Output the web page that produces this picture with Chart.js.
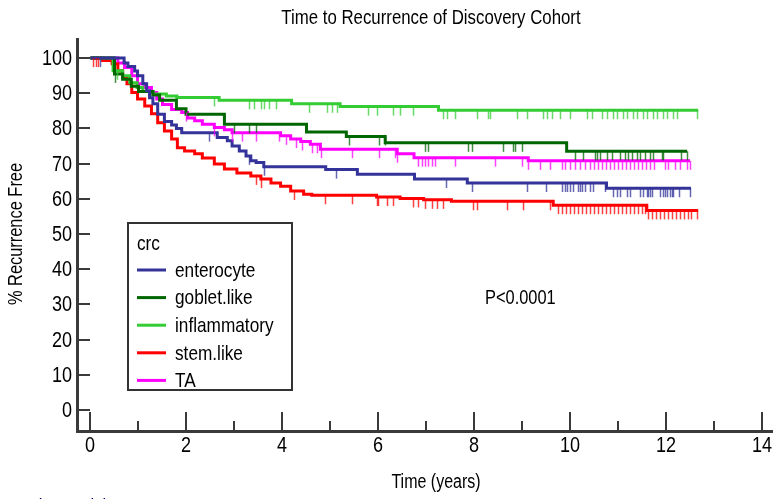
<!DOCTYPE html>
<html>
<head>
<meta charset="utf-8">
<script src="https://cdn.jsdelivr.net/npm/chart.js@4.4.0/dist/chart.umd.min.js"></script>
<style>
  html, body { margin: 0; padding: 0; background: #fff; }
  #wrap { width: 773px; height: 499px; }
</style>
</head>
<body>
<div id="wrap"><canvas id="kmChart" width="773" height="499"></canvas></div>
<script>
// Kaplan-Meier recurrence-free curves, one per crc subtype
const groups = ["enterocyte", "goblet.like", "inflammatory", "stem.like", "TA"];

// step times (years) and % recurrence free after each step
const enterocyteT = [0, 0.70, 0.78, 0.92, 0.98, 1.09, 1.17, 1.23, 1.30, 1.40, 1.54, 1.69, 1.79, 1.90, 2.64, 2.85, 2.95, 3.10, 3.24, 3.34, 3.45, 3.61, 4.90, 5.56, 6.75, 7.85, 10.75, 12.51];
const enterocyteS = [100, 98.6, 97.6, 96.3, 95.0, 92.7, 90.7, 88.7, 87.0, 84.0, 82.0, 81.0, 80.0, 78.8, 77.4, 76.5, 75.0, 73.6, 72.2, 70.8, 70.3, 69.1, 68.3, 67.0, 65.6, 64.5, 63.0, 63.0];

const gobletT = [0, 0.50, 0.67, 0.85, 1.00, 1.30, 1.44, 1.79, 1.99, 2.79, 4.50, 5.33, 6.14, 9.92, 12.43];
const gobletS = [100, 95.5, 94.0, 92.0, 90.5, 89.5, 88.0, 85.6, 84.0, 81.2, 79.0, 77.7, 75.9, 73.5, 73.5];

const inflammatoryT = [0, 0.47, 0.67, 0.82, 0.97, 1.09, 1.30, 1.58, 1.80, 2.68, 4.19, 5.20, 7.25, 12.66];
const inflammatoryS = [100, 96.4, 95.0, 93.0, 91.6, 90.5, 89.8, 89.2, 88.8, 88.0, 87.0, 86.2, 85.2, 85.2];

const stemT = [0, 0.25, 0.45, 0.57, 0.67, 0.76, 0.86, 0.98, 1.13, 1.27, 1.40, 1.54, 1.69, 1.81, 1.96, 2.17, 2.33, 2.58, 2.79, 3.05, 3.34, 3.55, 3.76, 3.96, 4.17, 4.44, 4.61, 5.96, 6.45, 6.94, 7.52, 9.64, 11.59, 12.66];
const stemS = [100, 99.3, 98.4, 96.4, 94.4, 92.7, 90.2, 88.4, 86.4, 84.2, 81.6, 79.3, 77.0, 74.5, 73.6, 72.8, 71.6, 69.9, 68.5, 67.3, 66.5, 65.6, 64.5, 63.6, 62.2, 61.3, 61.0, 60.5, 60.1, 59.7, 59.3, 58.2, 56.7, 56.7];

const taT = [0, 0.57, 0.71, 0.86, 0.98, 1.13, 1.27, 1.38, 1.50, 1.69, 1.90, 2.02, 2.17, 2.33, 2.58, 2.79, 2.95, 3.96, 4.17, 4.38, 4.58, 4.79, 6.39, 6.74, 9.12, 12.49];
const taS = [100, 98.6, 97.3, 95.0, 92.7, 91.6, 90.2, 88.4, 86.8, 85.4, 84.5, 83.0, 82.2, 81.2, 80.3, 79.6, 78.8, 77.9, 77.0, 76.3, 75.5, 74.1, 72.8, 71.7, 70.8, 70.8];

// censoring times (years)
const enterocyteCens = [0.20, 2.47, 3.30, 3.61, 5.12, 7.40, 7.94, 9.10, 9.50, 9.82, 9.88, 9.93, 9.99, 10.05, 10.15, 10.19, 10.25, 10.30, 10.40, 10.46, 10.72, 10.89, 10.97, 11.03, 11.18, 11.24, 11.45, 11.51, 11.59, 11.62, 11.65, 11.70, 11.87, 11.92, 11.96, 12.01, 12.07, 12.11, 12.13, 12.27, 12.49];
const gobletCens = [0.51, 2.99, 3.30, 3.45, 5.39, 6.02, 6.13, 6.97, 7.03, 7.87, 7.95, 8.59, 8.80, 8.85, 8.99, 10.09, 10.26, 10.52, 10.55, 10.62, 10.76, 10.87, 11.03, 11.14, 11.20, 11.28, 11.38, 11.45, 11.55, 11.65, 11.72, 11.90, 11.92, 12.31, 12.43];
const inflammatoryCens = [0.55, 2.58, 3.30, 3.41, 3.55, 3.61, 3.72, 3.86, 4.56, 4.92, 5.03, 5.13, 5.78, 5.96, 6.30, 6.44, 6.72, 7.35, 7.43, 7.60, 8.05, 8.28, 8.32, 8.89, 9.10, 9.43, 9.51, 9.62, 9.78, 9.99, 10.34, 10.44, 10.66, 10.76, 10.89, 10.97, 11.09, 11.18, 11.30, 11.38, 11.51, 11.59, 11.72, 11.80, 11.92, 12.01, 12.13, 12.22, 12.64];
const stemCens = [0.05, 0.11, 0.16, 3.45, 3.55, 4.25, 4.88, 5.44, 5.96, 5.99, 6.18, 6.30, 6.72, 6.82, 6.97, 7.11, 7.22, 7.35, 7.97, 8.05, 8.67, 9.01, 9.57, 9.74, 9.82, 9.90, 9.99, 10.07, 10.15, 10.24, 10.32, 10.40, 10.50, 10.58, 10.66, 10.74, 10.83, 10.91, 10.99, 11.08, 11.16, 11.24, 11.32, 11.41, 11.49, 11.55, 11.61, 11.70, 11.78, 11.87, 11.94, 12.03, 12.12, 12.20, 12.28, 12.36, 12.45, 12.52, 12.64];
const taCens = [2.00, 2.58, 2.95, 3.16, 3.45, 3.92, 4.07, 4.28, 4.40, 4.61, 4.71, 4.81, 5.44, 6.02, 6.34, 6.39, 6.82, 6.90, 6.97, 7.03, 7.11, 7.17, 7.60, 8.43, 8.99, 9.12, 9.37, 9.57, 9.82, 9.88, 9.99, 10.09, 10.20, 10.30, 10.41, 10.50, 10.58, 10.66, 10.74, 10.83, 10.91, 10.99, 11.08, 11.16, 11.24, 11.32, 11.41, 11.49, 11.57, 11.65, 11.73, 11.96, 12.03, 12.18, 12.28, 12.43, 12.49];

const yTickValues = [0, 10, 20, 30, 40, 50, 60, 70, 80, 90, 100];
const xTickValues = [0, 2, 4, 6, 8, 10, 12, 14];
const xMinorValues = [1, 3, 5, 7, 9, 11, 13];

const stepTimes = [enterocyteT, gobletT, inflammatoryT, stemT, taT];
const stepValues = [enterocyteS, gobletS, inflammatoryS, stemS, taS];
const censorTimes = [enterocyteCens, gobletCens, inflammatoryCens, stemCens, taCens];

const colors = ["#333399", "#006600", "#33CC33", "#FF0000", "#FF00FF"];
const censorColors = ["rgba(51,51,153,0.75)", "rgba(0,102,0,0.75)", "rgba(51,204,51,0.75)", "rgba(255,0,0,0.75)", "rgba(255,0,255,0.75)"];

const FONT = "'Liberation Sans', Arial, sans-serif";
const NARROW = 0.82;
const AXIS_COLOR = "#3a3a3a";

function survivalAt(i, t) {
  const ts = stepTimes[i];
  let v = stepValues[i][0];
  for (let j = 0; j < ts.length; j++) {
    if (ts[j] <= t) v = stepValues[i][j];
    else break;
  }
  return v;
}

// condensed Arial-style text: squeeze Liberation Sans horizontally
function narrowText(ctx, text, x, y, size, align, baseline, color, rotated) {
  ctx.save();
  ctx.translate(x, y);
  if (rotated) ctx.rotate(-Math.PI / 2);
  ctx.scale(NARROW, 1);
  ctx.font = size + "px " + FONT;
  ctx.textAlign = align;
  ctx.textBaseline = baseline;
  ctx.fillStyle = color;
  ctx.fillText(text, 0, 0);
  ctx.restore();
}

const datasets = groups.map((g, i) => ({
  label: g,
  data: stepTimes[i].map((t, j) => ({ x: t, y: stepValues[i][j] })),
  borderColor: colors[i],
  backgroundColor: colors[i],
  borderWidth: 3,
  stepped: "before",
  pointRadius: 0,
  fill: false,
}));

// axes with inward ticks, censor marks, boxed legend and annotations
const kmDecor = {
  id: "kmDecor",
  afterDatasetsDraw(chart) {
    const { ctx, scales: { x, y } } = chart;

    // censor marks hang below each curve
    ctx.save();
    ctx.lineWidth = 1.5;
    censorTimes.forEach((list, i) => {
      ctx.strokeStyle = censorColors[i];
      list.forEach((t) => {
        const px = Math.round(x.getPixelForValue(t)) + 0.5;
        const py = y.getPixelForValue(survivalAt(i, t));
        ctx.beginPath();
        ctx.moveTo(px, py);
        ctx.lineTo(px, py + 9);
        ctx.stroke();
      });
    });
    ctx.restore();
  },
  afterDraw(chart) {
    const { ctx, chartArea, scales: { x, y } } = chart;
    const left = chartArea.left;
    const bottom = chartArea.bottom;

    ctx.save();
    ctx.strokeStyle = AXIS_COLOR;
    ctx.lineCap = "butt";

    // axis lines
    ctx.lineWidth = 3;
    ctx.beginPath();
    ctx.moveTo(left + 1.5, chartArea.top);
    ctx.lineTo(left + 1.5, bottom + 1.5);
    ctx.lineTo(chartArea.right, bottom + 1.5);
    ctx.stroke();

    // tick marks point into the plot, labels sit outside
    ctx.lineWidth = 2;
    yTickValues.forEach((v) => {
      const py = Math.round(y.getPixelForValue(v));
      ctx.beginPath();
      ctx.moveTo(left + 1.5, py);
      ctx.lineTo(left + 14, py);
      ctx.stroke();
      narrowText(ctx, String(v), left - 4, py + 1, 22, "right", "middle", "#000");
    });
    xTickValues.forEach((t) => {
      const px = Math.round(x.getPixelForValue(t));
      ctx.beginPath();
      ctx.moveTo(px, bottom);
      ctx.lineTo(px, bottom - 18);
      ctx.stroke();
      narrowText(ctx, String(t), px, bottom + 16, 22, "center", "middle", "#000");
    });
    xMinorValues.forEach((t) => {
      const px = Math.round(x.getPixelForValue(t));
      ctx.beginPath();
      ctx.moveTo(px, bottom);
      ctx.lineTo(px, bottom - 9);
      ctx.stroke();
    });

    // titles
    narrowText(ctx, "Time to Recurrence of Discovery Cohort", 431, 18, 20.5, "center", "middle", "#000");
    narrowText(ctx, "Time (years)", 436, 483, 19.5, "center", "middle", "#000");
    narrowText(ctx, "% Recurrence Free", 16, (chartArea.top + bottom) / 2, 20, "center", "middle", "#000", true);

    // p-value
    narrowText(ctx, "P<0.0001", 485, 298, 20, "left", "middle", "#000");

    // legend box
    ctx.lineWidth = 2;
    ctx.strokeStyle = "#333";
    ctx.strokeRect(128, 223, 164, 167);
    narrowText(ctx, "crc", 137, 244, 21, "left", "middle", "#000");
    groups.forEach((g, i) => {
      const ly = 270 + i * 27.6;
      ctx.strokeStyle = colors[i];
      ctx.lineWidth = 3;
      ctx.beginPath();
      ctx.moveTo(137, ly);
      ctx.lineTo(166, ly);
      ctx.stroke();
      narrowText(ctx, g, 175, ly + 1, 21, "left", "middle", "#000");
    });

    // risk table heading, mostly below the visible area
    narrowText(ctx, "Number at risk", 4, 497, 20, "left", "top", "#000080");
    ctx.restore();
  },
};

new Chart(document.getElementById("kmChart").getContext("2d"), {
  type: "line",
  data: { datasets },
  options: {
    responsive: false,
    animation: false,
    maintainAspectRatio: false,
    layout: { padding: { top: 38, right: 0, left: 0, bottom: 0 } },
    plugins: {
      legend: { display: false },
      tooltip: { enabled: false },
    },
    scales: {
      x: {
        type: "linear",
        min: -0.302,
        max: 14.219,
        afterBuildTicks: (scale) => {
          scale.ticks = xTickValues.map((v) => ({ value: v }));
        },
        afterFit: (scale) => {
          scale.height = 69;
        },
        grid: { display: false },
        border: { display: false },
        ticks: { display: false },
      },
      y: {
        type: "linear",
        min: -5.7,
        max: 105.7,
        afterBuildTicks: (scale) => {
          scale.ticks = yTickValues.map((v) => ({ value: v }));
        },
        afterFit: (scale) => {
          scale.width = 76;
        },
        grid: { display: false },
        border: { display: false },
        ticks: { display: false },
      },
    },
  },
  plugins: [kmDecor],
});
</script>
</body>
</html>
